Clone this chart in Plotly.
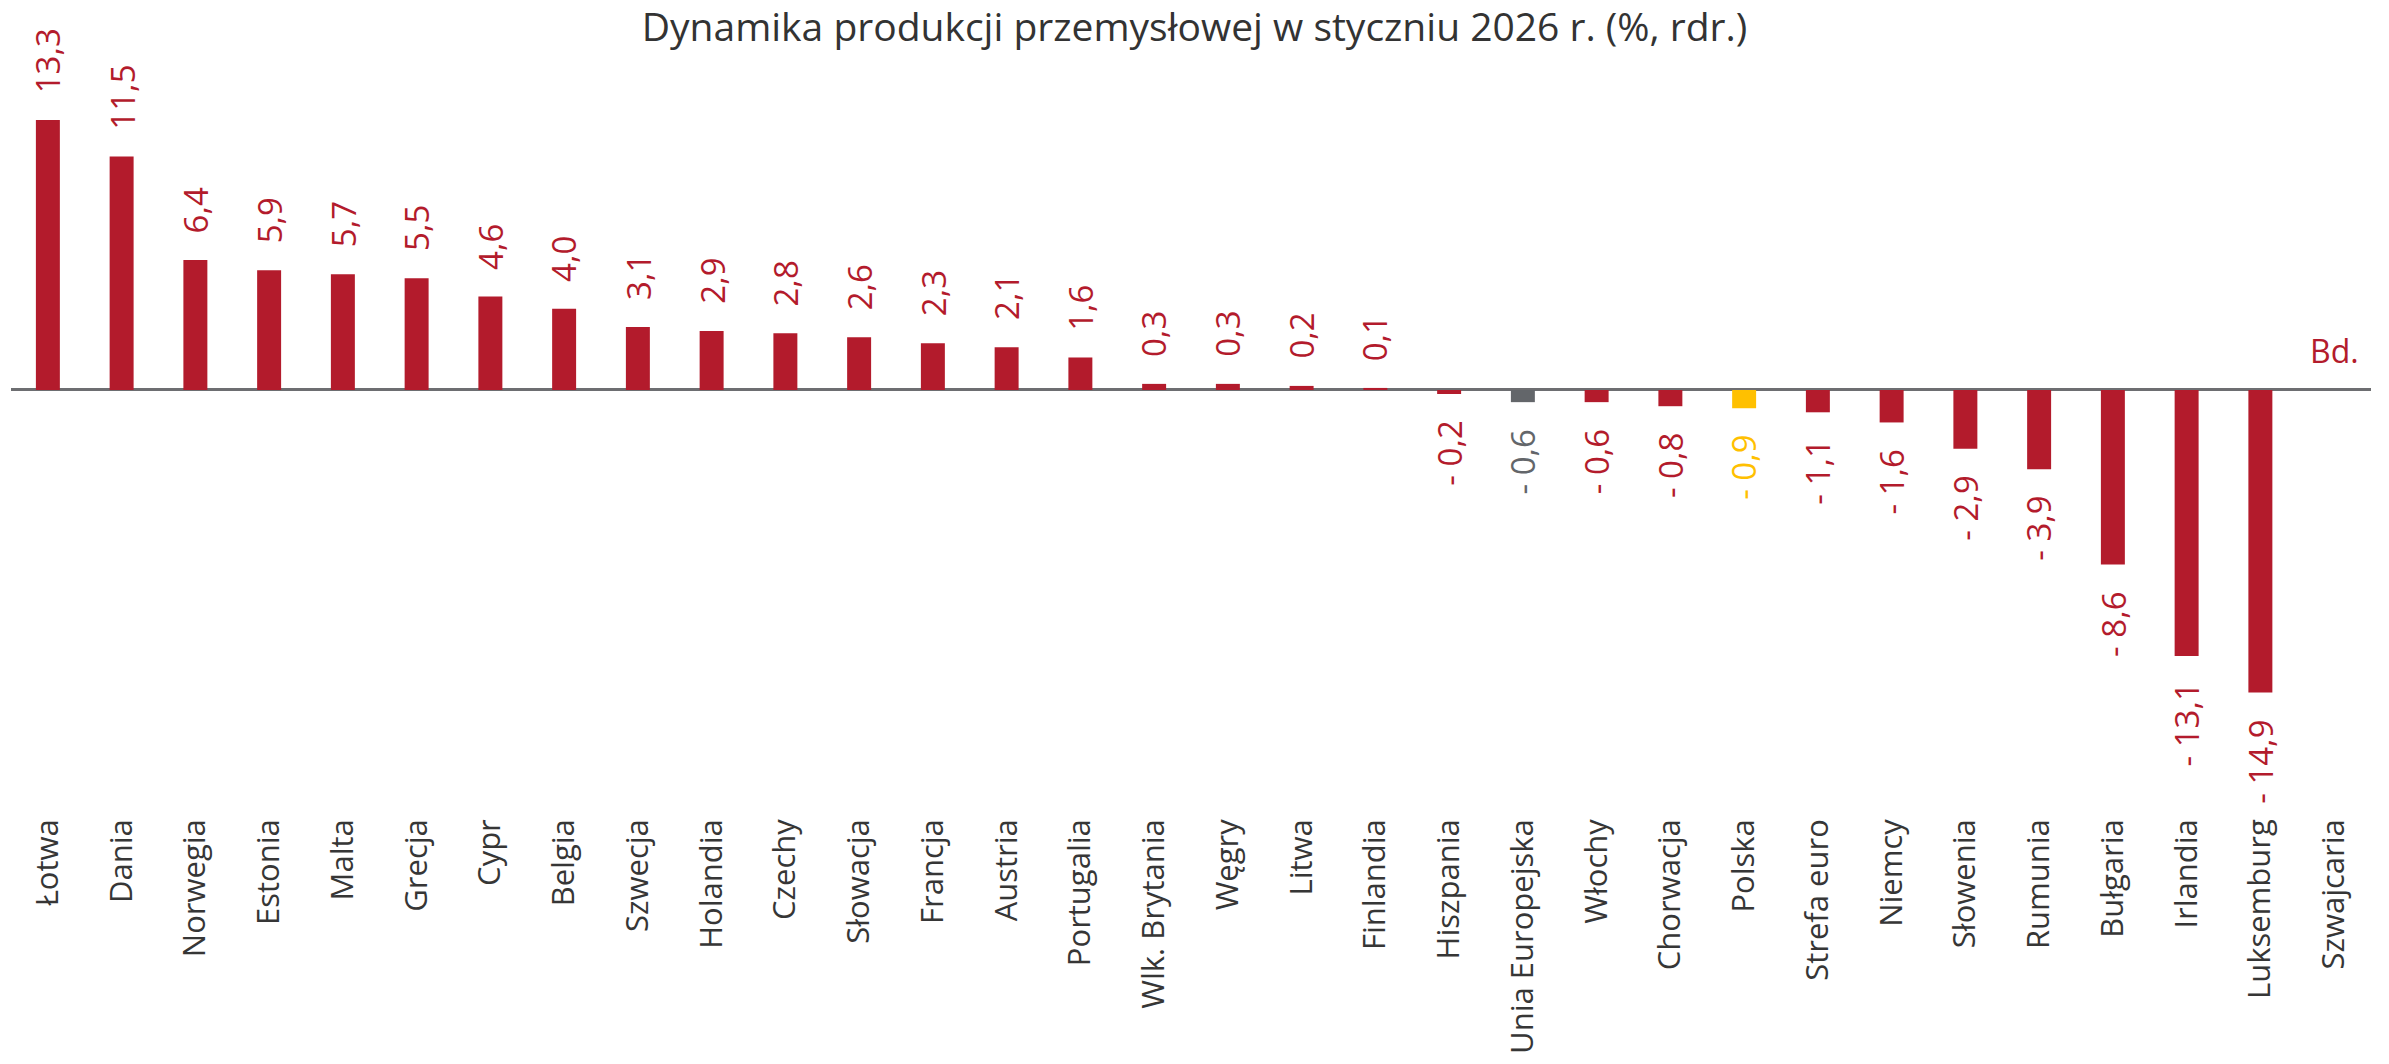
import plotly.graph_objects as go

countries = ["Łotwa", "Dania", "Norwegia", "Estonia", "Malta", "Grecja", "Cypr", "Belgia",
             "Szwecja", "Holandia", "Czechy", "Słowacja", "Francja", "Austria", "Portugalia",
             "Wlk. Brytania", "Węgry", "Litwa", "Finlandia", "Hiszpania", "Unia Europejska",
             "Włochy", "Chorwacja", "Polska", "Strefa euro", "Niemcy", "Słowenia", "Rumunia",
             "Bułgaria", "Irlandia", "Luksemburg", "Szwajcaria"]
values = [13.3, 11.5, 6.4, 5.9, 5.7, 5.5, 4.6, 4.0, 3.1, 2.9, 2.8, 2.6, 2.3, 2.1, 1.6,
          0.3, 0.3, 0.2, 0.1, -0.2, -0.6, -0.6, -0.8, -0.9, -1.1, -1.6, -2.9, -3.9,
          -8.6, -13.1, -14.9, None]

RED = "#B31B2C"
GREY = "#63666A"
YELLOW = "#FFC000"

colors = []
for c in countries:
    if c == "Polska":
        colors.append(YELLOW)
    elif c == "Unia Europejska":
        colors.append(GREY)
    else:
        colors.append(RED)


def fmt(v):
    s = f"{abs(v):.1f}".replace(".", ",")
    return s if v >= 0 else "- " + s


fig = go.Figure()
fig.add_trace(go.Bar(x=countries, y=[0 if v is None else v for v in values],
                     marker_color=colors, marker_line_width=0, hoverinfo="skip"))

for c, v, col in zip(countries, values, colors):
    if v is None:
        # no data for this country
        fig.add_annotation(x=c, y=0, text="Bd.", showarrow=False, yanchor="bottom",
                           yshift=16, font=dict(family="Open Sans", size=32, color=RED))
        continue
    fig.add_annotation(x=c, y=v, text=fmt(v), showarrow=False, textangle=-90,
                       yanchor="bottom" if v >= 0 else "top",
                       yshift=25 if v >= 0 else -25,
                       font=dict(family="Open Sans", size=33, color=col))

fig.update_layout(
    width=2389, height=1064,
    margin=dict(l=11, r=18, t=40, b=252),
    plot_bgcolor="white", paper_bgcolor="white",
    bargap=0.675, showlegend=False,
    title=dict(text="Dynamika produkcji przemysłowej w styczniu 2026 r. (%, rdr.)",
               x=0.5, xanchor="center", y=0.974, yanchor="middle",
               font=dict(family="Open Sans", size=39, color="#333333")),
)
fig.update_xaxes(tickangle=-90, showgrid=False, showline=False, ticks="",
                 tickfont=dict(family="Open Sans", size=31, color="#363636"))
fig.update_yaxes(range=[-20.79, 17.24], showgrid=False, showticklabels=False,
                 zeroline=True, zerolinecolor="#6D6E71", zerolinewidth=2.5)

fig.write_html("out.html", config={"displayModeBar": False},
               post_script="document.body.style.margin='0';")
